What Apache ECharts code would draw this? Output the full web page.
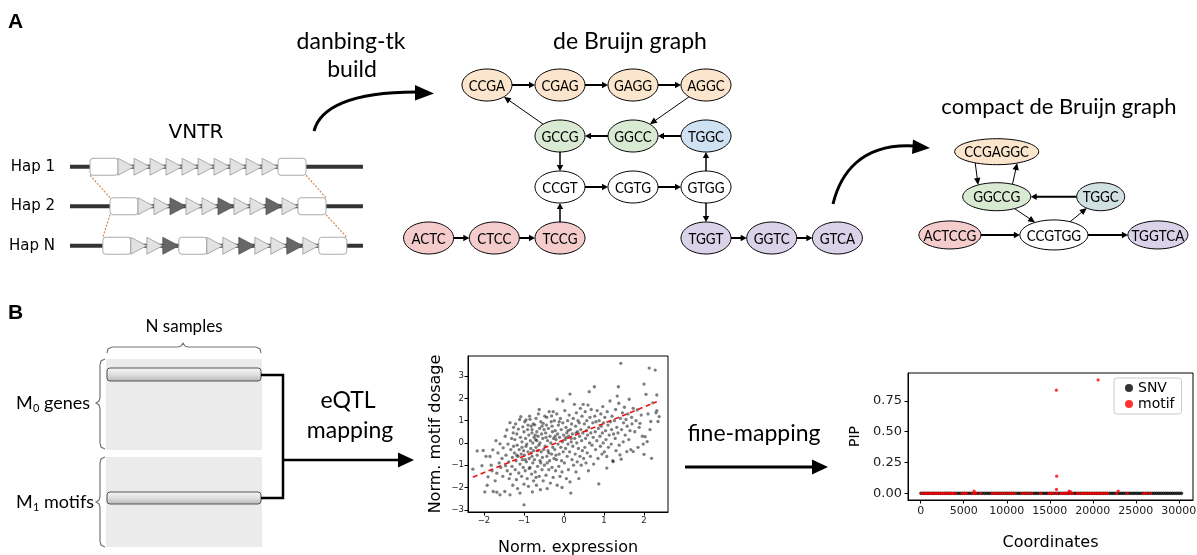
<!DOCTYPE html>
<html><head><meta charset="utf-8">
<script src="https://cdn.jsdelivr.net/npm/echarts@6/dist/echarts.min.js"></script>
<style>html,body{margin:0;padding:0;background:#fff}#c{width:1197px;height:555px}</style>
</head><body><div id="c"></div>
<script>
// ================= DATA =================
// VNTR haplotypes: F = flanking/boundary box, a = light motif, b = dark motif
const hapLabels = ['Hap 1', 'Hap 2', 'Hap N'];
const hapMotifs = ['FaaaaaaaaaaF', 'FaabaabaabaF', 'FaabFaabaabaF'];
const hapStart = [0, 1.25, 0.8];          // start of each haplotype, in motif units

// de Bruijn graph (k=4)
const dbgNodes = ['CCGA','CGAG','GAGG','AGGC','GCCG','GGCC','TGGC','CCGT','CGTG','GTGG','ACTC','CTCC','TCCG','TGGT','GGTC','GTCA'];
const dbgCol   = [-1, 0, 1, 2,  0, 1, 2,  0, 1, 2,  -1.8, -0.9, 0,  2, 2.9, 3.8];
const dbgRow   = [ 0, 0, 0, 0,  1, 1, 1,  2, 2, 2,   3,    3,   3,  3, 3,   3];
const dbgGroup = ['o','o','o','o','g','g','b','w','w','w','r','r','r','p','p','p'];
const dbgEdges = [
  ['CCGA','CGAG'],['CGAG','GAGG'],['GAGG','AGGC'],['AGGC','GGCC'],['TGGC','GGCC'],['GGCC','GCCG'],
  ['GCCG','CCGA'],['GCCG','CCGT'],['CCGT','CGTG'],['CGTG','GTGG'],['GTGG','TGGC'],['GTGG','TGGT'],
  ['ACTC','CTCC'],['CTCC','TCCG'],['TCCG','CCGT'],['TGGT','GGTC'],['GGTC','GTCA']
];

// compact de Bruijn graph
const cdbgNodes = ['CCGAGGC','GGCCG','TGGC','ACTCCG','CCGTGG','TGGTCA'];
const cdbgCol   = [0, 0, 2, -0.9, 1.1, 3.1];
const cdbgRow   = [0, 1, 1, 1.85, 1.85, 1.85];
const cdbgGroup = ['o','g','c','r','w','p'];
const cdbgEdges = [
  ['CCGAGGC','GGCCG'],['GGCCG','CCGAGGC'],['TGGC','GGCCG'],['GGCCG','CCGTGG'],
  ['CCGTGG','TGGC'],['ACTCCG','CCGTGG'],['CCGTGG','TGGTCA']
];

// eQTL scatter: [normalized expression, normalized motif dosage]
const exprDosagePts = [
 [-2.28,-1.18],[-2.17,-0.36],[-2.02,-0.34],[-2.05,-1.02],[-1.98,-2.2],
 [-1.95,-0.6],[-1.9,-1.52],[-1.85,-0.61],[-1.82,-1.0],[-1.78,-0.31],[-1.77,-2.18],[-1.8,-1.25],[-1.92,-1.9],
 [-1.72,-1.7],[-1.68,-1.36],[-1.68,-2.21],[-1.65,-0.45],[-1.62,-0.9],[-1.6,-0.04],[-1.6,-2.33],[-1.58,-1.1],[-1.55,-0.7],[-1.53,-1.5],[-1.7,0.1],[-1.52,-0.22],
 [-1.48,-2.18],[-1.47,0.3],[-1.45,-0.55],[-1.43,0.58],[-1.42,-1.25],[-1.4,-0.05],[-1.38,-0.85],[-1.37,-1.6],[-1.35,0.91],[-1.35,-2.33],[-1.33,-0.3],[-1.31,0.2],[-1.3,-1.05],[-1.29,-0.65],[-1.28,-1.9],[-1.27,0.45],[-1.26,-0.15],[-1.46,-1.02],[-1.34,-1.4],[-1.26,0.7],
 [-1.24,-0.45],[-1.23,0.15],[-1.22,-1.2],[-1.21,0.85],[-1.2,-0.8],[-1.19,-1.65],[-1.18,0.4],[-1.17,-0.1],[-1.16,-2.05],[-1.15,-0.6],[-1.14,0.62],[-1.13,-1.35],[-1.12,-0.3],[-1.11,1.05],[-1.1,-2.25],[-1.1,-0.95],[-1.09,0.25],[-1.08,1.18],[-1.07,-0.5],[-1.06,-1.5],[-1.05,0.05],[-1.04,-0.75],[-1.03,0.72],[-1.02,-1.1],[-1.01,-0.35],[-1.0,-2.78],[-1.0,0.5],[-1.0,-1.85],[-1.18,-0.55],[-1.05,-0.2],
 [-0.99,-0.55],[-0.98,0.95],[-0.97,-1.25],[-0.96,0.2],[-0.95,1.03],[-0.94,-0.85],[-0.93,-0.05],[-0.92,-1.6],[-0.91,0.6],[-0.9,-0.4],[-0.89,-1.95],[-0.88,0.35],[-0.87,-0.7],[-0.86,1.2],[-0.85,1.06],[-0.85,-1.1],[-0.84,0.1],[-0.83,-0.25],[-0.82,0.75],[-0.81,-1.4],[-0.8,-0.6],[-0.8,0.45],[-0.79,-2.2],[-0.78,-0.9],[-0.78,0.0],[-0.77,0.85],[-0.76,-0.35],[-0.76,-1.7],[-0.75,0.25],[-0.95,-0.15],[-0.9,0.8],[-0.82,-0.45],[-0.97,-0.75],[-0.87,-1.15],[-0.8,0.6],
 [-0.74,-0.75],[-0.73,0.81],[-0.72,-1.3],[-0.71,0.15],[-0.7,-0.2],[-0.7,1.1],[-0.69,-1.9],[-0.68,0.5],[-0.67,-0.55],[-0.66,-1.05],[-0.65,0.3],[-0.64,1.3],[-0.63,-0.1],[-0.62,-1.5],[-0.61,0.65],[-0.6,-0.8],[-0.6,0.0],[-0.59,-2.1],[-0.58,0.95],[-0.57,-0.4],[-0.56,0.4],[-0.55,-1.2],[-0.54,-0.65],[-0.53,0.2],[-0.52,0.88],[-0.52,-1.7],[-0.51,-0.3],[-0.5,0.6],[-0.72,0.35],[-0.66,-0.35],[-0.58,-0.9],[-0.55,0.75],[-0.62,1.5],[-0.7,-1.55],[-0.68,0.1],
 [-0.49,-1.0],[-0.48,1.2],[-0.47,-0.15],[-0.46,0.45],[-0.45,-1.45],[-0.44,0.8],[-0.43,1.15],[-0.43,-0.6],[-0.42,-2.05],[-0.41,0.1],[-0.4,-0.35],[-0.39,0.65],[-0.38,-1.2],[-0.37,1.4],[-0.36,-0.8],[-0.35,0.3],[-0.34,-1.8],[-0.33,0.0],[-0.32,0.95],[-0.31,1.21],[-0.31,-0.5],[-0.3,-1.1],[-0.29,0.5],[-0.28,-0.2],[-0.27,1.4],[-0.27,-1.55],[-0.26,0.2],[-0.25,-0.7],[-0.45,0.25],[-0.38,-0.45],[-0.3,0.75],[-0.42,-0.9],
 [-0.24,1.0],[-0.23,-0.3],[-0.22,0.55],[-0.21,-1.25],[-0.2,0.15],[-0.19,-0.75],[-0.18,1.3],[-0.17,1.96],[-0.17,-1.9],[-0.16,0.4],[-0.15,-0.05],[-0.14,0.8],[-0.13,-1.05],[-0.12,-0.5],[-0.11,0.25],[-0.1,-1.5],[-0.09,1.1],[-0.08,-0.2],[-0.07,0.6],[-0.06,-0.8],[-0.05,-2.0],[-0.04,0.05],[-0.03,1.88],[-0.03,0.9],[-0.02,-0.4],[-0.01,0.35],[-0.2,-0.55],[-0.12,0.95],[-0.05,-1.3],[-0.22,0.3],
 [0.01,-0.9],[0.02,1.45],[0.03,0.15],[0.04,-0.25],[0.05,0.7],[0.06,-1.6],[0.07,0.45],[0.08,-0.6],[0.09,1.0],[0.1,-0.05],[0.11,-1.2],[0.12,0.3],[0.13,1.25],[0.14,-0.4],[0.15,2.19],[0.15,-1.75],[0.16,0.6],[0.17,-2.25],[0.18,0.05],[0.19,0.85],[0.2,-0.75],[0.21,0.4],[0.22,-0.15],[0.23,1.1],[0.24,-1.0],[0.05,0.25],[0.18,0.2],[0.1,0.55],
 [0.26,1.73],[0.27,0.2],[0.28,-0.5],[0.29,0.75],[0.3,-1.3],[0.31,1.35],[0.32,0.0],[0.33,-0.85],[0.34,0.5],[0.35,1.0],[0.36,-0.25],[0.37,-1.6],[0.38,0.9],[0.39,0.3],[0.4,-0.6],[0.41,1.55],[0.42,0.6],[0.43,-1.0],[0.44,0.1],[0.45,1.2],[0.46,-0.35],[0.47,0.45],[0.48,1.73],[0.49,-0.7],[0.3,0.45],
 [0.51,0.85],[0.52,-0.2],[0.53,1.4],[0.54,0.2],[0.55,-0.9],[0.56,0.55],[0.57,1.0],[0.58,-0.45],[0.59,0.35],[0.6,1.7],[0.61,-1.25],[0.62,0.7],[0.63,2.3],[0.64,0.0],[0.65,1.15],[0.66,-0.6],[0.67,0.45],[0.68,1.5],[0.7,-0.1],[0.72,0.9],[0.73,0.25],[0.74,-0.95],
 [0.76,2.52],[0.77,1.2],[0.78,0.5],[0.79,-0.3],[0.8,0.95],[0.82,0.1],[0.83,1.45],[0.85,-0.7],[0.86,0.65],[0.87,-1.84],[0.88,1.0],[0.9,0.3],[0.91,-0.15],[0.92,1.3],[0.93,0.75],[0.95,-0.5],[0.96,0.45],[0.97,1.63],[0.98,0.0],[0.99,0.9],
 [1.01,-0.4],[1.02,1.15],[1.04,0.55],[1.05,0.15],[1.07,-0.61],[1.07,-1.13],[1.08,1.4],[1.1,0.8],[1.11,-0.2],[1.13,0.35],[1.15,1.88],[1.16,0.95],[1.18,-0.05],[1.19,0.6],[1.2,1.2],[1.22,-0.8],[1.23,-0.84],[1.24,0.4],
 [1.26,1.0],[1.28,0.2],[1.29,1.5],[1.3,-0.35],[1.32,0.7],[1.33,2.1],[1.35,0.45],[1.36,2.52],[1.37,1.78],[1.38,-0.1],[1.4,-0.54],[1.41,1.1],[1.42,3.57],[1.43,-0.73],[1.44,0.6],[1.46,1.35],[1.48,0.05],[1.49,0.9],
 [1.51,1.6],[1.53,0.35],[1.55,1.05],[1.57,-0.39],[1.58,0.75],[1.6,1.3],[1.62,0.15],[1.63,1.96],[1.65,0.55],[1.67,-0.3],[1.69,1.15],[1.7,0.85],[1.73,-0.39],[1.73,1.55],
 [1.77,0.5],[1.8,1.0],[1.83,1.48],[1.85,-0.2],[1.88,0.7],[1.9,0.88],[1.93,1.25],[1.96,0.3],[1.98,-0.05],[2.0,-0.51],
 [2.0,2.64],[2.03,0.28],[2.05,2.18],[2.08,0.06],[2.1,1.3],[2.13,3.36],[2.15,0.6],[2.17,0.96],[2.19,-0.69],[2.22,1.8],
 [2.28,3.27],[2.3,1.35],[2.32,2.15],[2.32,1.45],[2.35,0.96],[2.38,1.18]
];
const regLine = [[-2.28,-1.54],[2.32,1.85]];
const scatterXTicks = [-2,-1,0,1,2];
const scatterYTicks = [-3,-2,-1,0,1,2,3];

// fine-mapping: [coordinate, PIP]
const snvPts = [
 [40,0],[310,0],[520,0],[790,0],[1010,0],[1290,0],[1500,0],[1770,0],[2030,0],[2260,0],[2540,0],[2800,0],[3060,0],[3310,0],[3540,0],[3830,0],[4060,0],[4330,0],[4590,0],[4850,0],[5090,0],[5370,0],[5620,0],[5880,0],[6130,0],[6390,0],[6640,0],[6910,0],[7150,0],[7420,0],[7690,0],[7940,0],[8200,0],[8460,0],[8720,0],[8980,0],[9230,0],[9500,0],[9770,0],[10020,0],[10270,0],[10540,0],[10800,0],[11060,0],[11320,0],[11580,0],[11840,0],[12090,0],[12360,0],[12620,0],[12880,0],[13140,0],[13400,0],[13660,0],[13910,0],[14180,0],[14440,0],[14690,0],[14960,0],[15220,0],[15480,0],[15740,0],[16000,0],[16250,0],[16520,0],[16780,0],[17040,0],[17290,0],[17560,0],[17820,0],[18070,0],[18340,0],[18600,0],[18860,0],[19110,0],[19380,0],[19640,0],[19890,0],[20160,0],[20420,0],[20680,0],[20930,0],[21200,0],[21460,0],[21710,0],[21980,0],[22240,0],[22500,0],[22750,0],[23020,0],[23280,0],[23530,0],[23800,0],[24060,0],[24310,0],[24580,0],[24840,0],[25100,0],[25350,0],[25620,0],[25880,0],[26130,0],[26400,0],[26660,0],[26920,0],[27170,0],[27440,0],[27700,0],[27950,0],[28220,0],[28480,0],[28730,0],[29000,0],[29260,0],[29510,0],[29780,0],[30040,0],[30300,0]
];
const motifPts = [
 [160,0],[420,0],[650,0],[880,0],[1100,0],[1350,0],[1580,0],[1820,0],[2060,0],[2300,0],[2560,0],[2790,0],[3020,0],[3280,0],[3510,0],[3760,0],[4010,0],
 [4820,0],[5050,0],[5330,0],[6020,0],[6200,0.019],[6250,0],[6400,0],[6950,0],
 [8320,0],[8600,0],[8900,0],[9250,0],[9600,0],[9900,0],[10250,0],[10600,0],[10950,0],
 [11820,0],[12150,0],[12500,0],[12900,0],[13920,0],[14920,0],[15150,0],[15450,0],
 [15770,0.836],[15800,0.139],[15780,0.032],[15820,0],
 [16280,0],[16550,0],[16800,0],[17050,0],[17250,0.019],[17400,0.012],[17350,0],[17650,0],
 [18220,0],[18500,0],[18800,0],[19050,0],[19300,0],[19600,0],[19850,0],[20100,0],[20350,0],[20620,0.919],[20650,0],[20900,0],[21200,0],[21500,0],[21700,0],
 [22780,0],[22950,0.019],[24020,0],[25920,0],[26250,0],[26700,0]
];
const pipXTicks = [0,5000,10000,15000,20000,25000,30000];
const pipYTicks = [0,0.25,0.5,0.75];

// ================= STYLE =================
const CAL = "Lato, 'Open Sans', sans-serif";
const DJ = "'DejaVu Sans', sans-serif";
const fillOf = {o:'#fce5cd', g:'#d9ead3', b:'#cfe2f3', w:'#ffffff', r:'#f4cccc', p:'#d9d2e9', c:'#d0e0e3'};
const thinDbg = {'AGGC>GGCC':1, 'GCCG>CCGA':1};
const dbgR = [25, 16];
const cdbgR = {CCGAGGC:[42,13], GGCCG:[34,14], TGGC:[24,14], ACTCCG:[31,14], CCGTGG:[34,15], TGGTCA:[30,14]};
const cdbgEdgeStyle = {
  'CCGAGGC>GGCCG': {o1:[-23,0], o2:[-17,0], lw:1},
  'GGCCG>CCGAGGC': {o1:[13,0], o2:[23,0], lw:1},
  'GGCCG>CCGTGG': {lw:1}, 'CCGTGG>TGGC': {lw:1}
};

function exitT(p, c, e, ux, uy) {
  const px = p[0]-c[0], py = p[1]-c[1], rx2 = e[0]*e[0], ry2 = e[1]*e[1];
  const A = ux*ux/rx2 + uy*uy/ry2;
  const B = 2*(px*ux/rx2 + py*uy/ry2);
  const C = px*px/rx2 + py*py/ry2 - 1;
  return (-B + Math.sqrt(Math.max(0, B*B - 4*A*C))) / (2*A);
}
function arrowEls(c1, e1, c2, e2, o1, o2, lw, hl, hw) {
  const a = [c1[0]+o1[0], c1[1]+o1[1]], b = [c2[0]+o2[0], c2[1]+o2[1]];
  let dx = b[0]-a[0], dy = b[1]-a[1]; const L = Math.hypot(dx, dy); dx /= L; dy /= L;
  const t1 = exitT(a, c1, e1, dx, dy), t2 = exitT(b, c2, e2, -dx, -dy);
  const s = [a[0]+dx*t1, a[1]+dy*t1], tip = [b[0]-dx*t2, b[1]-dy*t2];
  const base = [tip[0]-dx*hl, tip[1]-dy*hl];
  return [
    {type:'line', shape:{x1:s[0], y1:s[1], x2:base[0]+dx, y2:base[1]+dy}, style:{stroke:'#000', lineWidth:lw}},
    {type:'polygon', shape:{points:[tip, [base[0]-dy*hw, base[1]+dx*hw], [base[0]+dy*hw, base[1]-dx*hw]]}, style:{fill:'#000'}}
  ];
}
function nodeEl(p, rx, ry, fill, label) {
  return {type:'group', children:[
    {type:'ellipse', shape:{cx:p[0], cy:p[1], rx:rx, ry:ry}, style:{fill:fill, stroke:'#000', lineWidth:1}},
    {type:'text', x:p[0], y:p[1]+0.5, scaleX:0.84, style:{text:label, font:'16px ' + CAL, fill:'#000', align:'center', verticalAlign:'middle', textAlign:'center', textVerticalAlign:'middle'}}
  ]};
}

// ================= GRAPHIC DECORATIONS =================
const G = [];
function txt(s, x, y, font, align) {
  G.push({type:'text', x:x, y:y, z:10, style:{text:s, font:font, fill:'#000',
    align:align||'center', verticalAlign:'middle', textAlign:align||'center', textVerticalAlign:'middle'}});
}
function poly(pts, lw, color) {
  G.push({type:'polyline', shape:{points:pts}, style:{stroke:color||'#000', lineWidth:lw, fill:null}});
}
function head(pts) { G.push({type:'polygon', shape:{points:pts}, style:{fill:'#000'}}); }

txt('A', 8, 22, "bold 21px 'Liberation Sans'", 'left');
txt('B', 8, 313, "bold 21px 'Liberation Sans'", 'left');
txt('danbing-tk', 351, 42, '23px ' + CAL);
txt('build', 352, 70, '23px ' + CAL);
txt('de Bruijn graph', 630, 42, '23px ' + CAL);
txt('VNTR', 196, 133, '20px ' + DJ);
txt('compact de Bruijn graph', 1059, 107, '22px ' + CAL);

G.push({type:'bezierCurve', shape:{x1:314, y1:131, cpx1:320, cpy1:108, cpx2:350, cpy2:92, x2:416, y2:92}, style:{stroke:'#000', lineWidth:3, fill:'none'}});
head([[434,93.5],[415,85],[415,100.5]]);
G.push({type:'bezierCurve', shape:{x1:833, y1:204, cpx1:840, cpy1:175, cpx2:860, cpy2:143, x2:914, y2:146}, style:{stroke:'#000', lineWidth:3, fill:'none'}});
head([[930,148],[913,139.5],[912,154]]);

// panel B left block
G.push({type:'rect', shape:{x:106, y:359, width:156, height:91}, style:{fill:'#ebebeb'}});
G.push({type:'rect', shape:{x:106, y:457, width:156, height:90}, style:{fill:'#ebebeb'}});
const barFill = {type:'linear', x:0, y:0, x2:0, y2:1, colorStops:[{offset:0, color:'#f7f7f7'},{offset:0.5, color:'#e0e0e0'},{offset:1, color:'#b5b5b5'}]};
G.push({type:'rect', shape:{x:107, y:368, width:154, height:13, r:3}, style:{fill:barFill, stroke:'#555', lineWidth:1}});
G.push({type:'rect', shape:{x:107, y:492, width:154, height:12, r:3}, style:{fill:barFill, stroke:'#555', lineWidth:1}});
poly([[107,353],[108,349],[112,347],[178,347],[181,346],[183,343],[185,346],[188,347],[256,347],[260,349],[261,353]], 1.2, '#777');
poly([[105,359],[101,361],[100,365],[100,398],[99,401],[96,403],[99,405],[100,408],[100,443],[101,447],[105,449]], 1.2, '#777');
poly([[105,457],[101,459],[100,463],[100,497],[99,500],[96,502],[99,504],[100,507],[100,541],[101,545],[105,547]], 1.2, '#777');
txt('N samples', 184, 327, '17px ' + CAL);
txt('M', 16, 403, '18px ' + CAL, 'left');
txt('0', 33, 408, '11px ' + CAL, 'left');
txt('genes', 44, 403, '18px ' + CAL, 'left');
txt('M', 16, 502, '18px ' + CAL, 'left');
txt('1', 33, 507, '11px ' + CAL, 'left');
txt('motifs', 44, 502, '18px ' + CAL, 'left');
poly([[261,375],[283,375],[283,498],[261,498]], 2.5);
poly([[283,460],[400,460]], 2.5);
head([[414,460],[398,452.5],[398,467.5]]);
txt('eQTL', 348, 401, '23px ' + CAL);
txt('mapping', 350, 431, '23px ' + CAL);
txt('fine-mapping', 754, 434, '23px ' + CAL);
poly([[685,467],[814,467]], 3);
head([[828,467],[812,459.5],[812,474.5]]);

// ================= CHART =================
const idxDbg = {}; dbgNodes.forEach((n,i) => idxDbg[n] = i);
const idxC = {}; cdbgNodes.forEach((n,i) => idxC[n] = i);
const hidden = {show:false};
const minus = v => String(v).replace('-', '\u2212');
const frameAxis = (extra) => Object.assign({
  type:'value', axisLine:{show:true, onZero:false, lineStyle:{color:'#000', width:1}},
  axisTick:{show:true, length:3.5, lineStyle:{color:'#000', width:1}},
  splitLine:{show:false}
}, extra);

const option = {
  animation:false,
  backgroundColor:'#fff',
  graphic: G,
  grid: [
    {left:58, top:147, width:320, height:118.5, outerBoundsMode:'none'},
    {left:341, top:34, width:584, height:255, outerBoundsMode:'none'},
    {left:892.7, top:106.7, width:286, height:180, outerBoundsMode:'none'},
    {left:468, top:356, width:200, height:156, show:true, borderColor:'#000', borderWidth:1, backgroundColor:'transparent', outerBoundsMode:'none'},
    {left:908, top:373, width:285, height:127, show:true, borderColor:'#000', borderWidth:1, backgroundColor:'transparent', outerBoundsMode:'none'}
  ],
  xAxis: [
    {gridIndex:0, type:'value', min:-2, max:18, show:false},
    {gridIndex:1, type:'value', min:-3, max:5, show:false},
    {gridIndex:2, type:'value', min:-2, max:3.5, show:false},
    frameAxis({gridIndex:3, min:-2.4, max:2.6,
      axisTick:{show:true, length:3.5, lineStyle:{color:'#000'}, customValues:scatterXTicks},
      axisLabel:{customValues:scatterXTicks, formatter:minus, fontFamily:DJ, fontSize:8.5, color:'#222', margin:4},
      name:'Norm. expression', nameLocation:'middle', nameGap:28, nameTextStyle:{fontFamily:DJ, fontSize:16, color:'#000'}}),
    frameAxis({gridIndex:4, min:-1480, max:31650,
      axisTick:{show:true, length:3.5, lineStyle:{color:'#000'}, customValues:pipXTicks},
      axisLabel:{customValues:pipXTicks, formatter:v => String(v), fontFamily:DJ, fontSize:11, color:'#222', margin:6},
      name:'Coordinates', nameLocation:'middle', nameGap:35, nameTextStyle:{fontFamily:DJ, fontSize:16, color:'#000'}})
  ],
  yAxis: [
    {gridIndex:0, type:'category', data:hapLabels, inverse:true, axisLine:hidden, axisTick:hidden, splitLine:hidden,
      axisLabel:{fontFamily:DJ, fontSize:15, color:'#000', margin:3}},
    {gridIndex:1, type:'value', min:-1, max:4, inverse:true, show:false},
    {gridIndex:2, type:'value', min:-1, max:3, inverse:true, show:false},
    frameAxis({gridIndex:3, min:-3.1, max:3.9,
      axisTick:{show:true, length:3.5, lineStyle:{color:'#000'}, customValues:scatterYTicks},
      axisLabel:{customValues:scatterYTicks, formatter:minus, fontFamily:DJ, fontSize:8.5, color:'#222', margin:4},
      name:'Norm. motif dosage', nameLocation:'middle', nameGap:24, nameRotate:90, nameTextStyle:{fontFamily:DJ, fontSize:16, color:'#000'}}),
    frameAxis({gridIndex:4, min:-0.054, max:0.975,
      axisTick:{show:true, length:3.5, lineStyle:{color:'#000'}, customValues:pipYTicks},
      axisLabel:{customValues:pipYTicks, formatter:v => v.toFixed(2), fontFamily:DJ, fontSize:13, color:'#222', margin:6},
      name:'PIP', nameLocation:'middle', nameGap:46, nameRotate:90, nameTextStyle:{fontFamily:DJ, fontSize:14, color:'#000'}})
  ],
  legend: {
    data:['SNV','motif'], left:1114, top:378, orient:'vertical', icon:'circle', itemWidth:8, itemHeight:8, itemGap:2,
    textStyle:{fontFamily:DJ, fontSize:14, color:'#000'}, backgroundColor:'#fff', borderColor:'#ccc', borderWidth:1,
    borderRadius:3, padding:[3,7,3,11], selectedMode:false
  },
  series: [
    // VNTR haplotypes
    {type:'custom', xAxisIndex:0, yAxisIndex:0, silent:true, clip:false,
      data: hapLabels.map((h, r) => [0, r]), encode:{x:0, y:1},
      renderItem: function (params, api) {
        const r = params.dataIndex;
        const X = (v, row) => api.coord([v, row])[0];
        const Y = row => api.coord([0, row])[1];
        const u = X(1, r) - X(0, r);
        const y = Y(r), h = 17;
        const ch = [{type:'line', shape:{x1:X(-1.25, r), y1:y, x2:X(17.06, r), y2:y}, style:{stroke:'#333', lineWidth:4}}];
        let pos = hapStart[r];
        for (const m of hapMotifs[r]) {
          if (m === 'F') {
            ch.push({type:'rect', shape:{x:X(pos, r), y:y-h/2, width:1.75*u, height:h, r:3}, style:{fill:'#fff', stroke:'#aaa', lineWidth:1}});
            pos += 1.75;
          } else {
            ch.push({type:'polygon', shape:{points:[[X(pos, r), y-h/2], [X(pos, r), y+h/2], [X(pos+1, r), y]]},
              style:{fill: m === 'b' ? '#666' : '#e2e2e2', stroke: m === 'b' ? '#555' : '#999', lineWidth:0.8}});
            pos += 1;
          }
        }
        if (r < hapMotifs.length - 1) {
          const lenOf = k => hapMotifs[k].split('').reduce((s, m) => s + (m === 'F' ? 1.75 : 1), 0);
          const y2 = Y(r + 1);
          const ls = {stroke:'#d9874c', lineWidth:1.2, lineDash:[2,1.5]};
          ch.push({type:'line', shape:{x1:X(hapStart[r], r), y1:y+h/2, x2:X(hapStart[r+1], r), y2:y2-h/2}, style:ls});
          const e1 = hapStart[r] + lenOf(r), e2 = hapStart[r+1] + lenOf(r+1);
          ch.push({type:'line', shape:{x1:X(e1, r), y1:y+h/2, x2:X(e2, r), y2:y2-h/2}, style:ls});
        }
        return {type:'group', children:ch};
      }},
    // de Bruijn graph edges
    {type:'custom', xAxisIndex:1, yAxisIndex:1, silent:true, clip:false,
      data: dbgEdges.map((e, k) => [dbgCol[idxDbg[e[0]]], dbgRow[idxDbg[e[0]]], k]), encode:{x:0, y:1},
      renderItem: function (params, api) {
        const e = dbgEdges[params.dataIndex];
        const i = idxDbg[e[0]], j = idxDbg[e[1]];
        const c1 = api.coord([dbgCol[i], dbgRow[i]]), c2 = api.coord([dbgCol[j], dbgRow[j]]);
        const thin = thinDbg[e[0] + '>' + e[1]];
        const vertical = Math.abs(c1[0] - c2[0]) < 1;
        const lw = thin ? 1 : (vertical ? 1.5 : 2);
        return {type:'group', children: arrowEls(c1, dbgR, c2, dbgR, [0,0], [0,0], lw, thin ? 7 : 6, 3.2)};
      }},
    // de Bruijn graph nodes
    {type:'custom', xAxisIndex:1, yAxisIndex:1, silent:true, clip:false,
      data: dbgNodes.map((n, i) => [dbgCol[i], dbgRow[i], i]), encode:{x:0, y:1},
      renderItem: function (params, api) {
        const i = params.dataIndex;
        const p = api.coord([api.value(0), api.value(1)]);
        return nodeEl(p, dbgR[0], dbgR[1], fillOf[dbgGroup[i]], dbgNodes[i]);
      }},
    // compact graph edges
    {type:'custom', xAxisIndex:2, yAxisIndex:2, silent:true, clip:false,
      data: cdbgEdges.map((e, k) => [cdbgCol[idxC[e[0]]], cdbgRow[idxC[e[0]]], k]), encode:{x:0, y:1},
      renderItem: function (params, api) {
        const e = cdbgEdges[params.dataIndex];
        const i = idxC[e[0]], j = idxC[e[1]];
        const c1 = api.coord([cdbgCol[i], cdbgRow[i]]), c2 = api.coord([cdbgCol[j], cdbgRow[j]]);
        const st = cdbgEdgeStyle[e[0] + '>' + e[1]] || {lw:2};
        return {type:'group', children: arrowEls(c1, cdbgR[e[0]], c2, cdbgR[e[1]], st.o1 || [0,0], st.o2 || [0,0], st.lw, st.lw > 1 ? 6 : 7, 3.2)};
      }},
    // compact graph nodes
    {type:'custom', xAxisIndex:2, yAxisIndex:2, silent:true, clip:false,
      data: cdbgNodes.map((n, i) => [cdbgCol[i], cdbgRow[i], i]), encode:{x:0, y:1},
      renderItem: function (params, api) {
        const i = params.dataIndex;
        const p = api.coord([api.value(0), api.value(1)]);
        const r = cdbgR[cdbgNodes[i]];
        return nodeEl(p, r[0], r[1], fillOf[cdbgGroup[i]], cdbgNodes[i]);
      }},
    // eQTL scatter
    {type:'scatter', name:'eqtl', xAxisIndex:3, yAxisIndex:3, data:exprDosagePts, symbolSize:3.3,
      itemStyle:{color:'rgba(15,15,15,0.68)'}, silent:true},
    {type:'line', name:'fit', xAxisIndex:3, yAxisIndex:3, data:regLine, symbol:'none', silent:true, z:5,
      lineStyle:{color:'#ee1111', width:1.6, type:[5,3.5]}},
    // fine-mapping
    {type:'scatter', name:'SNV', xAxisIndex:4, yAxisIndex:4, data:snvPts, symbolSize:3.6, itemStyle:{color:'#000'}, silent:true},
    {type:'scatter', name:'motif', xAxisIndex:4, yAxisIndex:4, data:motifPts, symbolSize:3.2, itemStyle:{color:'#ff0000'}, silent:true, z:3}
  ]
};
const chart = echarts.init(document.getElementById('c'), null, {renderer:'canvas', width:1197, height:555});
chart.setOption(option);
</script>
</body></html>
